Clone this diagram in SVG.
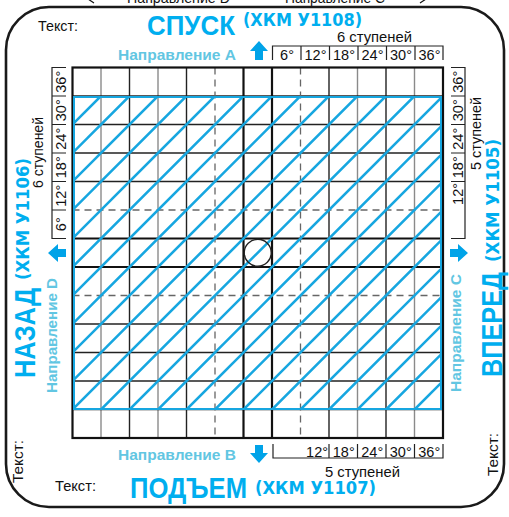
<svg xmlns="http://www.w3.org/2000/svg" width="509" height="517" viewBox="0 0 509 517">
<style>
text{font-family:"Liberation Sans",Arial,sans-serif;fill:#111}
.title{font-weight:bold;fill:#00aeef}
.code{font-family:"DejaVu Sans","Liberation Sans",sans-serif;font-weight:bold;fill:#00aeef}
.dir{font-weight:bold;fill:#62c6e2}
.lbl{font-size:14.5px}
.g1{stroke:#222;stroke-width:1.4;fill:none}
.g2{stroke:#8a8a8a;stroke-width:1.4;fill:none}
.gd{stroke:#666;stroke-width:1.3;stroke-dasharray:7 5;fill:none}
.gt{stroke:#111;stroke-width:2.2;fill:none}
.comb{stroke:#222;stroke-width:1.2;fill:none}
.hatch{stroke:#16a6e0;stroke-width:2.6;fill:none}
.arrow{fill:#00a3e8}
</style>
<defs>
<clipPath id="hclip"><rect x="74" y="97" width="367" height="312"/></clipPath>
</defs>

<rect id="frame" x="6" y="7" width="498" height="500" rx="43" ry="43" fill="none" stroke="#1a1a1a" stroke-width="2.6"/>

<g id="grid">
<g class="g2">
<line x1="101" y1="67.5" x2="101" y2="438"/>
<line x1="158" y1="67.5" x2="158" y2="438"/>
<line x1="357.5" y1="67.5" x2="357.5" y2="438"/>
<line x1="414.5" y1="67.5" x2="414.5" y2="438"/>
</g>
<g class="g1">
<line x1="129.5" y1="67.5" x2="129.5" y2="438"/>
<line x1="186.5" y1="67.5" x2="186.5" y2="438"/>
<line x1="329" y1="67.5" x2="329" y2="438"/>
<line x1="386" y1="67.5" x2="386" y2="438"/>
<line x1="72.5" y1="96" x2="443" y2="96"/>
<line x1="72.5" y1="124.5" x2="443" y2="124.5"/>
<line x1="72.5" y1="153" x2="443" y2="153"/>
<line x1="72.5" y1="181.5" x2="443" y2="181.5"/>
<line x1="72.5" y1="324" x2="443" y2="324"/>
<line x1="72.5" y1="352.5" x2="443" y2="352.5"/>
<line x1="72.5" y1="381" x2="443" y2="381"/>
<line x1="72.5" y1="409.5" x2="443" y2="409.5"/>
</g>
<g class="gd">
<line x1="215" y1="67.5" x2="215" y2="438"/>
<line x1="300.5" y1="67.5" x2="300.5" y2="438"/>
<line x1="72.5" y1="210" x2="443" y2="210"/>
<line x1="72.5" y1="295.5" x2="443" y2="295.5"/>
</g>
<g class="gt">
<line x1="243.5" y1="67.5" x2="243.5" y2="438"/>
<line x1="272" y1="67.5" x2="272" y2="438"/>
<line x1="72.5" y1="238.5" x2="443" y2="238.5"/>
<line x1="72.5" y1="267" x2="443" y2="267"/>
<rect x="72.5" y="67.5" width="370.5" height="370.5"/>
</g>
</g>

<g id="hatch">
<g class="hatch" clip-path="url(#hclip)">
<line x1="0" y1="197" x2="197" y2="0"/>
<line x1="0" y1="225.5" x2="225.5" y2="0"/>
<line x1="0" y1="254" x2="254" y2="0"/>
<line x1="0" y1="282.5" x2="282.5" y2="0"/>
<line x1="0" y1="311" x2="311" y2="0"/>
<line x1="0" y1="339.5" x2="339.5" y2="0"/>
<line x1="0" y1="368" x2="368" y2="0"/>
<line x1="0" y1="396.5" x2="396.5" y2="0"/>
<line x1="0" y1="425" x2="425" y2="0"/>
<line x1="0" y1="453.5" x2="453.5" y2="0"/>
<line x1="0" y1="482" x2="482" y2="0"/>
<line x1="0" y1="510.5" x2="510.5" y2="0"/>
<line x1="0" y1="539" x2="539" y2="0"/>
<line x1="0" y1="567.5" x2="567.5" y2="0"/>
<line x1="0" y1="596" x2="596" y2="0"/>
<line x1="0" y1="624.5" x2="624.5" y2="0"/>
<line x1="0" y1="653" x2="653" y2="0"/>
<line x1="0" y1="681.5" x2="681.5" y2="0"/>
<line x1="0" y1="710" x2="710" y2="0"/>
<line x1="0" y1="738.5" x2="738.5" y2="0"/>
<line x1="0" y1="767" x2="767" y2="0"/>
<line x1="0" y1="795.5" x2="795.5" y2="0"/>
<line x1="0" y1="824" x2="824" y2="0"/>
</g>
<rect x="74" y="97" width="367" height="312" fill="none" stroke="#16a6e0" stroke-width="2"/>
</g>

<circle id="center" cx="257.75" cy="252.75" r="13.5" fill="none" stroke="#222" stroke-width="1.3"/>

<g id="scale-top">
<path class="comb" d="M272.5,60V46H443V60M301,46V60M329.5,46V60M358,46V60M386.5,46V60M415,46V60"/>
<g class="lbl" text-anchor="middle">
<text x="287" y="59.5">6°</text>
<text x="315.5" y="59.5">12°</text>
<text x="344" y="59.5">18°</text>
<text x="372.5" y="59.5">24°</text>
<text x="401" y="59.5">30°</text>
<text x="429.5" y="59.5">36°</text>
</g>
<text x="337" y="42" font-size="15" textLength="75" lengthAdjust="spacingAndGlyphs">6 ступеней</text>
</g>

<g id="scale-left">
<path class="comb" d="M66,67.5H52V238.5H66M52,96H66M52,124.5H66M52,153H66M52,181.5H66M52,210H66"/>
<g class="lbl" text-anchor="middle">
<text transform="translate(66,224.25) rotate(-90)">6°</text>
<text transform="translate(66,195.75) rotate(-90)">12°</text>
<text transform="translate(66,167.25) rotate(-90)">18°</text>
<text transform="translate(66,138.75) rotate(-90)">24°</text>
<text transform="translate(66,110.25) rotate(-90)">30°</text>
<text transform="translate(66,81.75) rotate(-90)">36°</text>
</g>
<text transform="translate(43,188) rotate(-90)" font-size="15" textLength="71" lengthAdjust="spacingAndGlyphs">6 ступеней</text>
</g>

<g id="scale-right">
<path class="comb" d="M451,67.5H465V238.5H451M451,96H465M451,124.5H465M451,153H465M451,181.5H465"/>
<g class="lbl" text-anchor="middle">
<text transform="translate(463,81.75) rotate(-90)">36°</text>
<text transform="translate(463,110.25) rotate(-90)">30°</text>
<text transform="translate(463,138.75) rotate(-90)">24°</text>
<text transform="translate(463,167.25) rotate(-90)">18°</text>
<text transform="translate(463,183) rotate(-90)" text-anchor="end">12°</text>
</g>
<text transform="translate(481,170) rotate(-90)" font-size="15" textLength="73" lengthAdjust="spacingAndGlyphs">5 ступеней</text>
</g>

<g id="scale-bottom">
<path class="comb" d="M273,444V458H443V444M329,444V458M357.5,444V458M386,444V458M414.5,444V458"/>
<g class="lbl" text-anchor="middle">
<text x="328" y="456.5" text-anchor="end">12°</text>
<text x="343.75" y="456.5">18°</text>
<text x="372.25" y="456.5">24°</text>
<text x="400.75" y="456.5">30°</text>
<text x="429.25" y="456.5">36°</text>
</g>
<text x="325" y="476.5" font-size="15" textLength="75" lengthAdjust="spacingAndGlyphs">5 ступеней</text>
</g>

<g id="top-label">
<text x="38" y="31" font-size="15" textLength="40" lengthAdjust="spacingAndGlyphs">Текст:</text>
<text x="147" y="35" font-size="28" class="title" textLength="88" lengthAdjust="spacingAndGlyphs">СПУСК</text>
<text x="243" y="26" font-size="17" class="code" textLength="119" lengthAdjust="spacingAndGlyphs">(ХКМ У1108)</text>
<text x="118" y="60" font-size="15" class="dir" textLength="118" lengthAdjust="spacingAndGlyphs">Направление A</text>
<path class="arrow" d="M259,41L268,51H263V60H255V51H250Z"/>
</g>

<g id="bottom-label">
<text x="55" y="491" font-size="15" textLength="41" lengthAdjust="spacingAndGlyphs">Текст:</text>
<text x="130" y="498" font-size="30" class="title" textLength="117" lengthAdjust="spacingAndGlyphs">ПОДЪЕМ</text>
<text x="255" y="494" font-size="17" class="code" textLength="121" lengthAdjust="spacingAndGlyphs">(ХКМ У1107)</text>
<text x="118" y="459.5" font-size="15" class="dir" textLength="118" lengthAdjust="spacingAndGlyphs">Направление B</text>
<path class="arrow" d="M259,463L268,453H263V445H255V453H250Z"/>
</g>

<g id="left-label">
<text transform="translate(23,483) rotate(-90)" font-size="15" textLength="43" lengthAdjust="spacingAndGlyphs">Текст:</text>
<text transform="translate(35,378) rotate(-90)" font-size="30" class="title" textLength="90" lengthAdjust="spacingAndGlyphs">НАЗАД</text>
<text transform="translate(29,280) rotate(-90)" font-size="17" class="code" textLength="122" lengthAdjust="spacingAndGlyphs">(ХКМ У1106)</text>
<text transform="translate(57,393) rotate(-90)" font-size="15" class="dir" textLength="115" lengthAdjust="spacingAndGlyphs">Направление D</text>
<path class="arrow" d="M48,253L58,244V249H66V257H58V262Z"/>
</g>

<g id="right-label">
<text transform="translate(498,476) rotate(-90)" font-size="15" textLength="43" lengthAdjust="spacingAndGlyphs">Текст:</text>
<text transform="translate(502,377) rotate(-90)" font-size="30" class="title" textLength="105" lengthAdjust="spacingAndGlyphs">ВПЕРЕД</text>
<text transform="translate(499,262) rotate(-90)" font-size="17" class="code" textLength="123" lengthAdjust="spacingAndGlyphs">(ХКМ У1105)</text>
<text transform="translate(461,392) rotate(-90)" font-size="15" class="dir" textLength="118" lengthAdjust="spacingAndGlyphs">Направление C</text>
<path class="arrow" d="M468,253L458,244V249H450V257H458V262Z"/>
</g>

<g id="edge-partial">
<text x="127" y="3" font-size="15" textLength="103" lengthAdjust="spacingAndGlyphs">Направление D</text>
<text x="285" y="3" font-size="15" textLength="100" lengthAdjust="spacingAndGlyphs">Направление C</text>
<path d="M94,-5L88,-1L94,3M420,-5L426,-1L420,3" fill="none" stroke="#111" stroke-width="1.2"/>
<text x="122" y="527.5" font-size="15" textLength="142" lengthAdjust="spacingAndGlyphs">Направление С</text>
</g>
</svg>
